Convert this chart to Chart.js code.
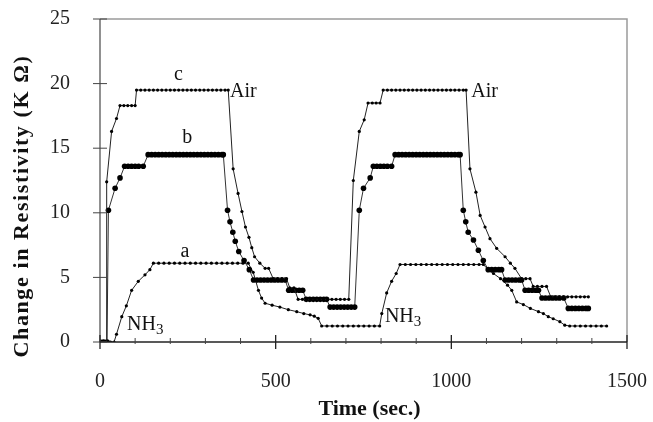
<!DOCTYPE html>
<html>
<head>
<meta charset="utf-8">
<script src="https://cdn.jsdelivr.net/npm/chart.js@4"></script>
<style>
  html, body { margin: 0; padding: 0; background: #fff; }
  #wrap { width: 653px; height: 422px; }
</style>
</head>
<body>
<div id="wrap"><canvas id="chart" width="653" height="422"></canvas></div>
<script>
// ---- Axis ticks ----
const xMajorTicks = [0, 500, 1000, 1500];
const xMinorTicks = [100, 200, 300, 400, 600, 700, 800, 900, 1100, 1200, 1300, 1400];
const yMajorTicks = [0, 5, 10, 15, 20, 25];

// ---- Series c (Time in sec, change in resistivity in K Ohm) ----
const cTime = [
  0, 10, 19,
  19, 33, 47,
  57, 68, 79, 90, 100,
  104, 116, 128, 140, 152, 164, 176, 188, 200, 212, 224, 236, 248, 260, 272, 284, 296, 308, 320, 332, 344, 356, 365,
  379, 393, 404, 414, 424, 432, 440, 455, 470, 480,
  493, 505, 518, 531, 540, 552,
  564, 576, 588, 600, 612, 624, 636, 648, 660, 672, 684, 696, 708,
  721, 738, 752,
  763, 775, 786, 797,
  806, 818, 830, 842, 854, 866, 878, 890, 902, 914, 926, 938, 950, 962, 974, 986, 998, 1010, 1022, 1034, 1042,
  1053, 1070, 1082, 1096, 1110, 1129, 1153, 1168, 1181,
  1200, 1212, 1224, 1233, 1245, 1258, 1271,
  1283, 1295, 1307, 1319, 1331, 1343, 1355, 1367, 1379, 1390
];
const cRes = [
  0, 0, 0,
  12.4, 16.3, 17.3,
  18.3, 18.3, 18.3, 18.3, 18.3,
  19.5, 19.5, 19.5, 19.5, 19.5, 19.5, 19.5, 19.5, 19.5, 19.5, 19.5, 19.5, 19.5, 19.5, 19.5, 19.5, 19.5, 19.5, 19.5, 19.5, 19.5, 19.5, 19.5,
  13.4, 11.5, 10.1, 8.9, 8.1, 7.3, 6.6, 6.1, 5.7, 5.7,
  4.9, 4.9, 4.9, 4.9, 4.2, 4.2,
  3.3, 3.3, 3.3, 3.3, 3.3, 3.3, 3.3, 3.3, 3.3, 3.3, 3.3, 3.3, 3.3,
  12.5, 16.3, 17.2,
  18.5, 18.5, 18.5, 18.5,
  19.5, 19.5, 19.5, 19.5, 19.5, 19.5, 19.5, 19.5, 19.5, 19.5, 19.5, 19.5, 19.5, 19.5, 19.5, 19.5, 19.5, 19.5, 19.5, 19.5, 19.5,
  13.4, 11.6, 9.8, 8.9, 8.0, 7.25, 6.6, 6.1, 5.7,
  4.9, 4.9, 4.9, 4.3, 4.3, 4.3, 4.3,
  3.5, 3.5, 3.5, 3.5, 3.5, 3.5, 3.5, 3.5, 3.5, 3.5
];

// ---- Series b ----
const bTime = [
  0, 10, 20,
  24, 43, 57,
  70, 80, 90, 100, 110, 123,
  137, 147, 157, 167, 177, 187, 197, 207, 217, 227, 237, 247, 257, 267, 277, 287, 297, 307, 317, 327, 337, 347, 351,
  363, 370, 378, 385, 395, 410, 425,
  437, 447, 457, 467, 477, 487, 497, 507, 517, 527,
  537, 547, 557, 567, 577,
  587, 597, 607, 617, 627, 637, 645,
  655, 665, 675, 685, 695, 705, 715, 725,
  738, 750, 769,
  778, 788, 798, 808, 818, 830,
  840, 850, 860, 870, 880, 890, 900, 910, 920, 930, 940, 950, 960, 970, 980, 990, 1000, 1010, 1020, 1025,
  1034, 1041, 1048, 1063, 1077, 1091,
  1105, 1115, 1125, 1135, 1143,
  1153, 1163, 1173, 1183, 1193, 1200,
  1210, 1220, 1230, 1240, 1248,
  1258, 1268, 1278, 1288, 1298, 1308, 1320,
  1333, 1343, 1353, 1363, 1373, 1383, 1390
];
const bRes = [
  0, 0, 0,
  10.2, 11.9, 12.7,
  13.6, 13.6, 13.6, 13.6, 13.6, 13.6,
  14.5, 14.5, 14.5, 14.5, 14.5, 14.5, 14.5, 14.5, 14.5, 14.5, 14.5, 14.5, 14.5, 14.5, 14.5, 14.5, 14.5, 14.5, 14.5, 14.5, 14.5, 14.5, 14.5,
  10.2, 9.3, 8.5, 7.8, 7.0, 6.3, 5.6,
  4.8, 4.8, 4.8, 4.8, 4.8, 4.8, 4.8, 4.8, 4.8, 4.8,
  4.0, 4.0, 4.0, 4.0, 4.0,
  3.3, 3.3, 3.3, 3.3, 3.3, 3.3, 3.3,
  2.7, 2.7, 2.7, 2.7, 2.7, 2.7, 2.7, 2.7,
  10.2, 11.9, 12.7,
  13.6, 13.6, 13.6, 13.6, 13.6, 13.6,
  14.5, 14.5, 14.5, 14.5, 14.5, 14.5, 14.5, 14.5, 14.5, 14.5, 14.5, 14.5, 14.5, 14.5, 14.5, 14.5, 14.5, 14.5, 14.5, 14.5,
  10.2, 9.3, 8.5, 7.9, 7.1, 6.3,
  5.6, 5.6, 5.6, 5.6, 5.6,
  4.8, 4.8, 4.8, 4.8, 4.8, 4.8,
  4.0, 4.0, 4.0, 4.0, 4.0,
  3.4, 3.4, 3.4, 3.4, 3.4, 3.4, 3.4,
  2.6, 2.6, 2.6, 2.6, 2.6, 2.6, 2.6
];

// ---- Series a ----
const aTime = [
  0, 10, 20, 30, 40,
  47, 62, 75, 90, 109, 128, 142,
  152, 167, 182, 197, 212, 227, 242, 257, 272, 287, 302, 317, 332, 347, 362, 377, 392, 407, 422,
  436, 451, 460, 470, 490, 512, 536, 560, 580, 598, 610, 621,
  631, 646, 661, 676, 691, 706, 721, 736, 751, 766, 781, 796,
  802, 816, 830, 843,
  854, 869, 884, 899, 914, 929, 944, 959, 974, 989, 1004, 1019, 1034, 1049, 1064, 1079, 1091,
  1105, 1120, 1140, 1160, 1172, 1186, 1205, 1225, 1248, 1262, 1276, 1290, 1309, 1323,
  1337, 1352, 1367, 1382, 1397, 1412, 1427, 1442
];
const aRes = [
  0, 0, 0, 0, 0,
  0.6, 1.96, 2.8, 4.0, 4.7, 5.2, 5.6,
  6.1, 6.1, 6.1, 6.1, 6.1, 6.1, 6.1, 6.1, 6.1, 6.1, 6.1, 6.1, 6.1, 6.1, 6.1, 6.1, 6.1, 6.1, 6.1,
  5.4, 4.0, 3.4, 3.0, 2.85, 2.7, 2.5, 2.35, 2.2, 2.1, 2.0, 1.83,
  1.24, 1.24, 1.24, 1.24, 1.24, 1.24, 1.24, 1.24, 1.24, 1.24, 1.24, 1.24,
  2.2, 3.8, 4.7, 5.3,
  6.0, 6.0, 6.0, 6.0, 6.0, 6.0, 6.0, 6.0, 6.0, 6.0, 6.0, 6.0, 6.0, 6.0, 6.0, 6.0, 6.0,
  5.6, 5.3, 4.9, 4.4, 4.0, 3.1, 2.9, 2.6, 2.35, 2.2, 1.96, 1.8, 1.57, 1.3,
  1.24, 1.24, 1.24, 1.24, 1.24, 1.24, 1.24, 1.24
];

// ---- In-plot annotations (anchored in data units) ----
const noteText = ['c', 'b', 'a', 'Air', 'Air', 'NH', 'NH'];
const noteTime = [223, 248, 242, 370, 1057, 77, 811];
const noteRes  = [20.3, 15.4, 6.6, 18.95, 18.95, 0.93, 1.55];
const noteSub  = ['', '', '', '', '', '3', '3'];
const noteAlign = ['center', 'center', 'center', 'left', 'left', 'left', 'left'];

const xTitle = 'Time (sec.)';
const yTitle = 'Change in Resistivity (K \u03A9)';

function pts(ts, vs) { return ts.map((t, i) => ({ x: t, y: vs[i] })); }

const SERIF = '"Liberation Serif", "DejaVu Serif", serif';

const decoPlugin = {
  id: 'deco',
  afterDatasetsDraw(chart) {
    const { ctx, chartArea: ca, scales } = chart;
    const xs = scales.x, ys = scales.y;
    ctx.save();
    // frame top/right (grey)
    ctx.strokeStyle = '#9a9a9a';
    ctx.lineWidth = 1.5;
    ctx.beginPath();
    ctx.moveTo(ca.left, ca.top); ctx.lineTo(ca.right, ca.top); ctx.lineTo(ca.right, ca.bottom);
    ctx.stroke();
    // left axis
    ctx.strokeStyle = '#555';
    ctx.lineWidth = 1.3;
    ctx.beginPath();
    ctx.moveTo(ca.left, ca.top); ctx.lineTo(ca.left, ca.bottom);
    ctx.stroke();
    // bottom axis
    ctx.strokeStyle = '#222';
    ctx.lineWidth = 1.5;
    ctx.beginPath();
    ctx.moveTo(ca.left, ca.bottom); ctx.lineTo(ca.right, ca.bottom);
    ctx.stroke();
    // y major ticks (crossing)
    ctx.strokeStyle = '#444';
    ctx.lineWidth = 1;
    yMajorTicks.forEach(v => {
      const y = ys.getPixelForValue(v);
      ctx.beginPath(); ctx.moveTo(ca.left - 7, y); ctx.lineTo(ca.left + 7, y); ctx.stroke();
    });
    // x major ticks
    ctx.strokeStyle = '#222';
    ctx.lineWidth = 1.3;
    xMajorTicks.forEach(v => {
      const x = xs.getPixelForValue(v);
      ctx.beginPath(); ctx.moveTo(x, ca.bottom - 7); ctx.lineTo(x, ca.bottom + 7); ctx.stroke();
    });
    // x minor ticks
    ctx.lineWidth = 1;
    ctx.strokeStyle = '#444';
    xMinorTicks.forEach(v => {
      const x = xs.getPixelForValue(v);
      ctx.beginPath(); ctx.moveTo(x, ca.bottom - 4); ctx.lineTo(x, ca.bottom + 2); ctx.stroke();
    });
    // annotations
    ctx.fillStyle = '#111';
    ctx.textBaseline = 'alphabetic';
    noteText.forEach((t, i) => {
      const x = xs.getPixelForValue(noteTime[i]);
      const y = ys.getPixelForValue(noteRes[i]);
      ctx.font = '20px ' + SERIF;
      ctx.textAlign = noteAlign[i];
      ctx.fillText(t, x, y);
      if (noteSub[i]) {
        const w = ctx.measureText(t).width;
        const sx = noteAlign[i] === 'left' ? x + w : x + w / 2;
        ctx.font = '15px ' + SERIF;
        ctx.textAlign = 'left';
        ctx.fillText(noteSub[i], sx, y + 4);
      }
    });
    // axis titles
    ctx.font = 'bold 22px ' + SERIF;
    ctx.textAlign = 'center';
    ctx.textBaseline = 'middle';
    ctx.fillStyle = '#111';
    ctx.fillText(xTitle, (ca.left + ca.right) / 2 + 6, 409);
    ctx.translate(22, 206);
    ctx.rotate(-Math.PI / 2);
    if ('letterSpacing' in ctx) ctx.letterSpacing = '1.6px';
    ctx.fillText(yTitle, 0, 0);
    ctx.restore();
  }
};

function noOverflow(s) {
  s.paddingTop = 0; s.paddingBottom = 0; s.paddingLeft = 0; s.paddingRight = 0;
}

new Chart(document.getElementById('chart'), {
  type: 'line',
  data: {
    datasets: [
      {
        label: 'c', data: pts(cTime, cRes),
        borderColor: '#222', borderWidth: 1,
        pointRadius: 1.6, pointBackgroundColor: '#000', pointBorderWidth: 0,
        tension: 0, fill: false
      },
      {
        label: 'b', data: pts(bTime, bRes),
        borderColor: '#333', borderWidth: 1,
        pointRadius: 2.8, pointBackgroundColor: '#000', pointBorderWidth: 0,
        tension: 0, fill: false
      },
      {
        label: 'a', data: pts(aTime, aRes),
        borderColor: '#222', borderWidth: 1,
        pointRadius: 1.6, pointBackgroundColor: '#000', pointBorderWidth: 0,
        tension: 0, fill: false
      }
    ]
  },
  options: {
    responsive: false,
    animation: false,
    devicePixelRatio: 1,
    layout: { padding: { top: 19, right: 26, left: 0, bottom: 0 } },
    plugins: { legend: { display: false }, tooltip: { enabled: false } },
    scales: {
      x: {
        type: 'linear', min: 0, max: 1500,
        grid: { display: false, drawTicks: false },
        border: { display: false },
        ticks: { stepSize: 500, padding: 28, color: '#222', font: { family: SERIF, size: 20 },
                 callback: v => String(v) },
        afterFit: s => { s.height = 80; noOverflow(s); }
      },
      y: {
        type: 'linear', min: 0, max: 25,
        grid: { display: false, drawTicks: false },
        border: { display: false },
        ticks: { stepSize: 5, padding: 30, color: '#222', font: { family: SERIF, size: 20 },
                 callback: v => String(v) },
        afterFit: s => { s.width = 100; noOverflow(s); }
      }
    }
  },
  plugins: [decoPlugin]
});
</script>
</body>
</html>
